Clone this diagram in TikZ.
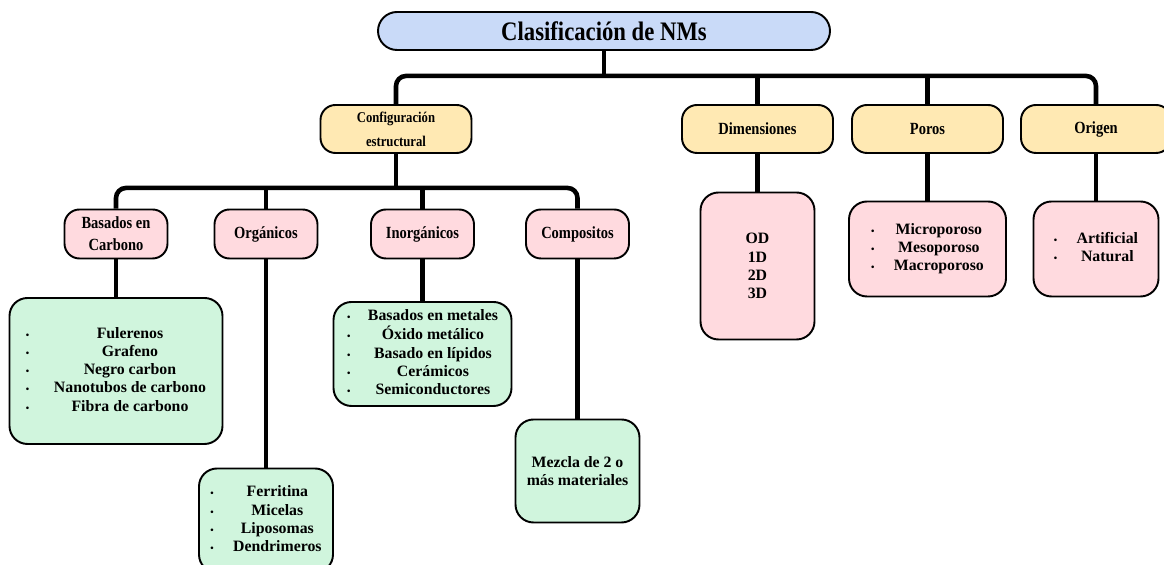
\documentclass[tikz,border=0pt]{standalone}
\usepackage{fontspec}
\setmainfont{Liberation Serif}
\newfontfamily\narrowfont[FakeStretch=0.85]{Liberation Serif}
\usetikzlibrary{positioning}

\definecolor{titleblue}{HTML}{C9DAF8}
\definecolor{catyellow}{HTML}{FFE9B3}
\definecolor{subpink}{HTML}{FFDADF}
\definecolor{listgreen}{HTML}{D0F5DD}

\newcommand{\bul}{{\fontsize{5.5}{5}\selectfont\textbullet}}

\begin{document}
\begin{tikzpicture}[
    node distance=2.4cm,
    every node/.style={draw, line width=1.1pt, rounded corners=0.3cm, align=center, font=\narrowfont\bfseries\fontsize{9.7}{12.6}\selectfont},
    cat/.style={fill=catyellow, minimum width=3.02cm, minimum height=0.96cm},
    sub/.style={fill=subpink, minimum width=2.06cm, minimum height=0.98cm},
    items/.style={rounded corners=0.36cm, font=\bfseries\fontsize{9}{10.4}\selectfont},
    conn/.style={line width=2.6pt, rounded corners=0.2cm}
]
\path[use as bounding box, clip] (0,0) rectangle (23.28,-11.3);

\node (title) at (12.08,-0.62) [fill=titleblue, minimum width=9.04cm, minimum height=0.76cm, rounded corners=0.38cm, font=\narrowfont\bfseries\fontsize{15.2}{16}\selectfont] {Clasificación de NMs};

\node (config) [cat, below of=title, xshift=-4.16cm, yshift=0.44cm, font=\narrowfont\bfseries\fontsize{8.5}{13.6}\selectfont] {Configuración\\estructural};
\node (dim) [cat, below of=title, xshift=3.07cm, yshift=0.44cm] {Dimensiones};
\node (poros) [cat, below of=title, xshift=6.47cm, yshift=0.44cm] {Poros};
\node (origen) [cat, below of=title, xshift=9.84cm, yshift=0.44cm, minimum width=3cm] {Origen};

\node (basC) [sub, below of=config, xshift=-5.6cm, yshift=0.3cm] {Basados en\\Carbono};
\node (org) [sub, below of=config, xshift=-2.6cm, yshift=0.3cm] {Orgánicos};
\node (inorg) [sub, below of=config, xshift=0.53cm, yshift=0.3cm] {Inorgánicos};
\node (comp) [sub, below of=config, xshift=3.63cm, yshift=0.3cm] {Compositos};

\node (lcarb) [items, fill=listgreen, below of=basC, yshift=-0.34cm, minimum width=4.26cm, minimum height=2.92cm]
{\begin{tabular}{@{}c@{\hspace{14pt}}c@{}}
\bul & Fulerenos\\ \bul & Grafeno\\ \bul & Negro carbon\\ \bul & Nanotubos de carbono\\ \bul & Fibra de carbono
\end{tabular}};
\node (lorg) [items, fill=listgreen, below of=org, yshift=-3.33cm, minimum width=2.68cm, minimum height=2.08cm]
{\begin{tabular}{@{}c@{\hspace{11pt}}c@{}}
\bul & Ferritina\\ \bul & Micelas\\ \bul & Liposomas\\ \bul & Dendrimeros
\end{tabular}};
\node (linorg) [items, fill=listgreen, below of=inorg, minimum width=3.56cm, minimum height=2.08cm]
{\begin{tabular}{@{}c@{\hspace{10pt}}c@{}}
\bul & Basados en metales\\ \bul & Óxido metálico\\ \bul & Basado en lípidos\\ \bul & Cerámicos\\ \bul & Semiconductores
\end{tabular}};
\node (lcomp) [items, fill=listgreen, below of=comp, yshift=-2.34cm, minimum width=2.48cm, minimum height=2.06cm] {Mezcla de 2 o\\más materiales};

\node (ldim) [items, fill=subpink, below of=dim, yshift=-0.34cm, minimum width=2.28cm, minimum height=2.94cm] {OD\\1D\\2D\\3D};
\node (lporos) [items, fill=subpink, below of=poros, minimum width=3.14cm, minimum height=1.9cm]
{\begin{tabular}{@{}c@{\hspace{11pt}}c@{}}
\bul & Microporoso\\ \bul & Mesoporoso\\ \bul & Macroporoso
\end{tabular}};
\node (lorig) [items, fill=subpink, below of=origen, minimum width=2.5cm, minimum height=1.9cm]
{\begin{tabular}{@{}c@{\hspace{11pt}}c@{}}
\bul & Artificial\\ \bul & Natural
\end{tabular}};

% top level
\draw[conn] (title.south) -- ++(0,-0.5) coordinate (bar1);
\draw[conn] (config.north) |- (bar1) -| (origen.north);
\draw[conn] (dim.north) -- (dim.north |- bar1);
\draw[conn] (poros.north) -- (poros.north |- bar1);

% configuracion estructural
\draw[conn] (config.south) -- ++(0,-0.68) coordinate (bar2);
\draw[conn] (basC.north) |- (bar2) -| (comp.north);
\draw[conn] (org.north) -- (org.north |- bar2);
\draw[conn] (inorg.north) -- (inorg.north |- bar2);

\draw[conn] (basC) -- (lcarb);
\draw[conn] (org) -- (lorg);
\draw[conn] (inorg) -- (linorg);
\draw[conn] (comp) -- (lcomp);
\draw[conn] (dim) -- (ldim);
\draw[conn] (poros) -- (lporos);
\draw[conn] (origen) -- (lorig);

\end{tikzpicture}
\end{document}
